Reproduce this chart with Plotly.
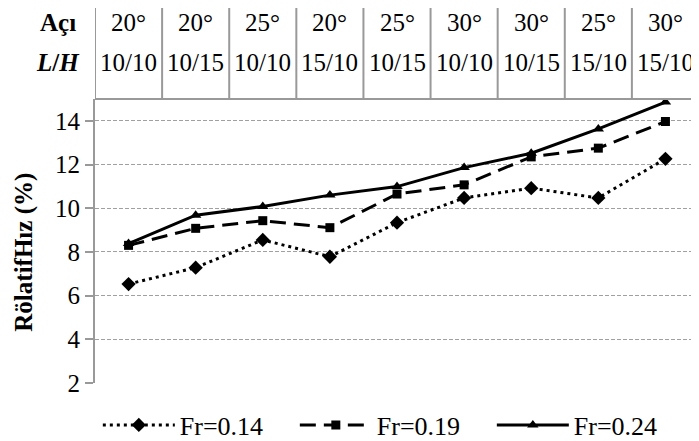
import plotly.graph_objects as go

angles = ["20°", "20°", "25°", "20°", "25°", "30°", "30°", "25°", "30°"]
lh = ["10/10", "10/15", "10/10", "15/10", "10/15", "10/10", "10/15", "15/10", "15/10"]
fr014 = [6.53, 7.28, 8.55, 7.78, 9.34, 10.47, 10.92, 10.47, 12.26]
fr019 = [8.30, 9.08, 9.43, 9.11, 10.65, 11.07, 12.35, 12.75, 13.97]
fr024 = [8.38, 9.68, 10.08, 10.60, 10.99, 11.86, 12.52, 13.63, 14.86]
series_names = ["Fr=0.14", "Fr=0.19", "Fr=0.24"]
yticks = [2, 4, 6, 8, 10, 12, 14]

FONT = "Liberation Serif, Times New Roman, Times, serif"
x = list(range(len(angles)))

fig = go.Figure()
fig.add_trace(go.Scatter(x=x, y=fr014, name=series_names[0], mode="lines+markers",
                         line=dict(color="black", width=3, dash="3px,4px"),
                         marker=dict(symbol="diamond", size=11, color="black")))
fig.add_trace(go.Scatter(x=x, y=fr019, name=series_names[1], mode="lines+markers",
                         line=dict(color="black", width=3, dash="16px,8px"),
                         marker=dict(symbol="square", size=9, color="black")))
fig.add_trace(go.Scatter(x=x, y=fr024, name=series_names[2], mode="lines+markers",
                         line=dict(color="black", width=3),
                         marker=dict(symbol="triangle-up", size=10, color="black")))

top = 1.33
row1 = 1.271
row2 = 1.127
shapes = []
for i in range(len(angles) + 1):
    shapes.append(dict(type="line", xref="x", yref="paper", x0=i - 0.5, x1=i - 0.5,
                       y0=1, y1=top, line=dict(color="#999999", width=2)))
shapes.append(dict(type="line", xref="paper", yref="paper", x0=0, x1=1, y0=1, y1=1,
                   line=dict(color="#999999", width=2)))

annotations = []
for i in range(len(angles)):
    annotations.append(dict(x=i, y=row1, xref="x", yref="paper", text=angles[i],
                            showarrow=False, xanchor="center", yanchor="middle",
                            font=dict(family=FONT, size=25, color="black")))
    annotations.append(dict(x=i, y=row2, xref="x", yref="paper", text=lh[i],
                            showarrow=False, xanchor="center", yanchor="middle",
                            font=dict(family=FONT, size=25, color="black")))
annotations.append(dict(x=-0.062, y=row1, xref="paper", yref="paper", text="<b>Açı</b>",
                        showarrow=False, xanchor="center", yanchor="middle",
                        font=dict(family=FONT, size=25, color="black")))
annotations.append(dict(x=-0.062, y=row2, xref="paper", yref="paper", text="<b><i>L</i>/<i>H</i></b>",
                        showarrow=False, xanchor="center", yanchor="middle",
                        font=dict(family=FONT, size=25, color="black")))
annotations.append(dict(x=-0.117, y=0.46, xref="paper", yref="paper", text="<b>RölatifHız (%)</b>",
                        showarrow=False, textangle=-90, xanchor="center", yanchor="middle",
                        font=dict(family=FONT, size=25, color="black")))

fig.update_layout(
    width=691, height=433,
    margin=dict(l=87, r=0, t=91, b=58),
    paper_bgcolor="white", plot_bgcolor="white",
    showlegend=True,
    legend=dict(orientation="h", xref="container", yref="container",
                x=0.13, xanchor="left", y=0.037, yanchor="middle",
                font=dict(family=FONT, size=26, color="black"),
                itemwidth=72, entrywidth=110, entrywidthmode="pixels"),
    shapes=shapes, annotations=annotations,
    font=dict(family=FONT, color="black"),
)
fig.update_xaxes(range=[-0.5, len(angles) - 0.5], showticklabels=False, showgrid=False,
                 zeroline=False, showline=False, ticks="")
fig.update_yaxes(range=[2, 15], tickvals=yticks, ticks="outside", ticklen=8, tickcolor="#999999",
                 tickwidth=1.5, showline=True, linecolor="#999999", linewidth=2,
                 showgrid=True, gridcolor="#a0a0a0", griddash="4px,2px", gridwidth=1,
                 zeroline=False, tickfont=dict(family=FONT, size=25, color="black"))

fig.write_html("out.html")
